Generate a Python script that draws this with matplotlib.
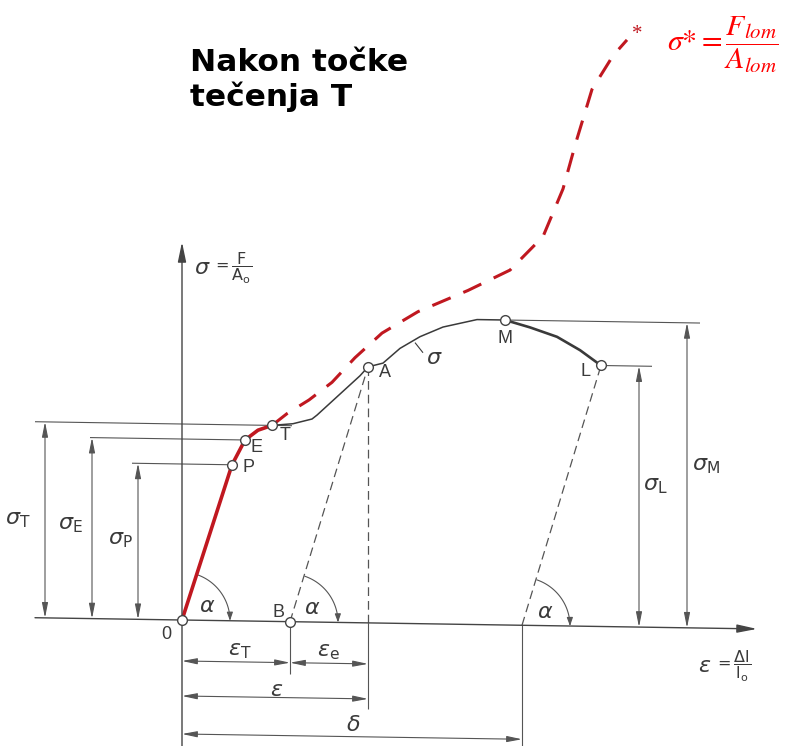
import numpy as np
import matplotlib
matplotlib.use("Agg")
import matplotlib.pyplot as plt
import matplotlib.transforms as mtransforms
from matplotlib.patches import FancyArrowPatch
from matplotlib.path import Path

plt.rcParams["mathtext.fontset"] = "dejavusans"

# karakteristicne tocke dijagrama (deformacija, naprezanje) u jedinicama crteza
tocke = ["P", "E", "T", "A", "M", "L"]
eps_tocke = [50, 63, 90, 186, 323, 419]
sig_tocke = [156, 181, 196, 256, 305, 261]
eps_B = 108        # trajna deformacija nakon rasterecenja iz A
eps_lom = 340      # trajna deformacija nakon loma (delta)

# konvencionalna krivulja sigma = F/A0
eps_krivulja = [0, 50, 63, 76, 90, 111, 130, 135, 178, 186, 201, 218, 238, 261, 295, 323,
                348, 375, 398, 419]
sig_krivulja = [0, 156, 181, 191, 196, 198, 203, 207, 247, 256, 260, 275, 287, 297, 305, 305,
                298, 289, 276, 261]

# stvarno naprezanje sigma* = F/A nakon tocke T
eps_stvarno = [90, 105, 127, 150, 173, 200, 236, 286, 328, 361, 381, 394, 410, 431, 445]
sig_stvarno = [196, 208, 222, 240, 265, 290, 312, 334, 355, 389, 437, 484, 537, 571, 587]

crna = "#3a3a3a"
siva = "#555555"
crvena = "#c01820"

fig = plt.figure(figsize=(7.87, 7.46), dpi=100)
ax = fig.add_axes([0, 0, 1, 1])
ax.set_xlim(0, 787)
ax.set_ylim(746, 0)
ax.axis("off")

# koordinatni sustav dijagrama, ishodiste u O (sken je malo zakrenut)
tr = mtransforms.Affine2D(np.array([[1, 0, 182], [0.0155, -1, 620], [0, 0, 1]])) + ax.transData

P = dict(zip(tocke, zip(eps_tocke, sig_tocke)))


def strelica(p1, p2, stil="<|-|>,head_length=0.9,head_width=0.18", lw=0.8, c=siva):
    ax.annotate("", xy=p2, xytext=p1, xycoords=tr, textcoords=tr,
                arrowprops=dict(arrowstyle=stil, color=c, lw=lw, shrinkA=0, shrinkB=0))


def linija(xs, ys, **kw):
    ax.plot(xs, ys, transform=tr, solid_capstyle="butt", **kw)


def luk(e0, r=48, kut=72):
    th = np.deg2rad(np.linspace(kut, 0, 40))
    verts = np.column_stack([e0 + r * np.cos(th), r * np.sin(th)])
    ax.add_patch(FancyArrowPatch(path=Path(verts), transform=tr, color=siva, lw=0.8,
                                 arrowstyle="-|>,head_length=5,head_width=1.8"))


# osi
strelica((-147, 0), (575, 0), stil="-|>,head_length=1.2,head_width=0.25", lw=1.0, c="#444")
strelica((0, -128), (0, 378), stil="-|>,head_length=1.2,head_width=0.25", lw=1.0, c="#444")

# kote naprezanja lijevo
for e_od, e_kota, t in [(-147, -137, "T"), (-92, -90, "E"), (-50, -44, "P")]:
    e_do = 110 if t == "T" else P[t][0]
    linija([e_od, e_do], [P[t][1], P[t][1]], color=siva, lw=0.8)
    strelica((e_kota, 0), (e_kota, P[t][1]))

# kote naprezanja desno
for t, e_kraj, e_kota in [("M", 518, 505), ("L", 470, 457)]:
    linija([P[t][0], e_kraj], [P[t][1], P[t][1]], color=siva, lw=0.8)
    strelica((e_kota, 0), (e_kota, P[t][1]))

# rasterecenje iz A i nakon loma iz L
crtkano = dict(color=siva, lw=0.9, dashes=(7, 4))
linija([eps_B, P["A"][0]], [0, P["A"][1]], **crtkano)
linija([P["A"][0], P["A"][0]], [0, P["A"][1]], **crtkano)
linija([eps_lom, P["L"][0]], [0, P["L"][1]], **crtkano)

# kote deformacija ispod osi
linija([eps_B, eps_B], [0, -52], color=siva, lw=0.8)
linija([P["A"][0], P["A"][0]], [0, -86], color=siva, lw=0.8)
linija([eps_lom, eps_lom], [0, -128], color=siva, lw=0.8)
strelica((0, -41), (eps_B, -41))
strelica((eps_B, -41), (P["A"][0], -41))
strelica((0, -76), (P["A"][0], -76))
strelica((0, -114), (eps_lom, -114))

# kutovi alfa
for e0 in [0, eps_B, eps_lom]:
    luk(e0)

# krivulje
linija(eps_krivulja[:16], sig_krivulja[:16], color=crna, lw=1.1)
linija(eps_krivulja[15:], sig_krivulja[15:], color=crna, lw=1.9)
linija(eps_krivulja[:5], sig_krivulja[:5], color=crvena, lw=2.6, solid_joinstyle="round")
linija(eps_stvarno, sig_stvarno, color=crvena, lw=2.2, dashes=(6.5, 4.5))

# tocke
oznaka = dict(marker="o", ms=7, mfc="white", mec="#444", mew=1.0, ls="none", transform=tr,
              zorder=10)
ax.plot([0, eps_B] + eps_tocke, [0, 0] + sig_tocke, **oznaka)

# natpisi tocaka
slova = dict(transform=tr, fontsize=13, color=crna, family="Liberation Sans",
             ha="center", va="center")
pomaci = {"P": (16, -2), "E": (12, -7), "T": (13, -10), "A": (17, -5),
          "M": (0, -18), "L": (-15, -6)}
for t in tocke:
    dx, dy = pomaci[t]
    ax.text(P[t][0] + dx, P[t][1] + dy, t, **slova)
ax.text(-16, -15, "0", **slova)
ax.text(eps_B - 12, 9, "B", **slova)

grcka = dict(transform=tr, fontsize=16, color=crna, ha="center", va="center")
ax.text(-164, 97, r"$\sigma_{\mathrm{T}}$", **grcka)
ax.text(-112, 93, r"$\sigma_{\mathrm{E}}$", **grcka)
ax.text(-62, 79, r"$\sigma_{\mathrm{P}}$", **grcka)
ax.text(473, 141, r"$\sigma_{\mathrm{L}}$", **grcka)
ax.text(524, 162, r"$\sigma_{\mathrm{M}}$", **grcka)
ax.text(252, 266, r"$\sigma$", **grcka)
linija([233, 241], [281, 271], color=crna, lw=0.8)

for e0 in [25, eps_B + 22, eps_lom + 23]:
    ax.text(e0, 14, r"$\alpha$", **grcka)

ax.text(58, -30, r"$\varepsilon_{\mathrm{T}}$", **grcka)
ax.text(146, -30, r"$\varepsilon_{\mathrm{e}}$", **grcka)
ax.text(95, -69, r"$\varepsilon$", **grcka)
ax.text(171, -102, r"$\delta$", **grcka)

# oznake osi: veliki simbol, manji razlomak
os_txt = dict(transform=tr, color=crna, ha="left", va="center")
ax.text(12, 352, r"$\sigma$", fontsize=16, **os_txt)
ax.text(30, 352, r"$=\dfrac{\mathrm{F}}{\mathrm{A_o}}$", fontsize=11.5, **os_txt)
ax.text(516, -38, r"$\varepsilon$", fontsize=16, **os_txt)
ax.text(532, -38, r"$=\dfrac{\Delta \mathrm{l}}{\mathrm{l_o}}$", fontsize=11.5, **os_txt)

# kraj stvarne krivulje i izraz za stvarno naprezanje
ax.text(eps_stvarno[-1] + 10, sig_stvarno[-1] + 6, "*", transform=tr, fontsize=15,
        color=crvena, family="Liberation Serif", ha="center", va="center")
ax.text(667, 45, r"$\sigma{*} = \dfrac{F_{lom}}{A_{lom}}$", fontsize=21.5, color="red",
        math_fontfamily="stix", ha="left", va="center")

ax.text(190, 80, "Nakon točke\ntečenja T", fontsize=22.5, fontweight="bold",
        family="DejaVu Sans", color="black", ha="left", va="center", linespacing=1.2)

fig.savefig("out.png", dpi=100)
